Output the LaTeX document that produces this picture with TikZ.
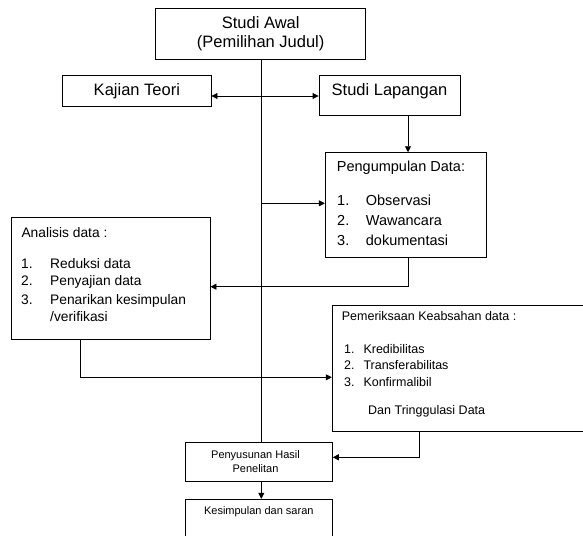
\documentclass[tikz,border=0pt]{standalone}
\usepackage{fontspec}
\setmainfont{Liberation Sans}
\usetikzlibrary{arrows.meta}
\begin{document}
\begin{tikzpicture}[x=1pt,y=-1pt,
  box/.style={draw, line width=0.9pt, inner sep=0pt},
  conn/.style={line width=0.9pt},
  arr/.style={conn, -{Triangle[length=6pt,width=6pt]}},
  darr/.style={conn, {Triangle[length=6pt,width=6pt]}-{Triangle[length=6pt,width=6pt]}},
  txt/.style={inner sep=0pt, anchor=west},
  fbig/.style={font=\fontsize{16.5}{19.5}\selectfont},
  fmid/.style={font=\fontsize{14.5}{17}\selectfont},
  fana/.style={font=\fontsize{13.8}{16}\selectfont},
  fsml/.style={font=\fontsize{12.5}{15}\selectfont},
  ftiny/.style={font=\fontsize{11}{14}\selectfont}
]
\useasboundingbox (0,0) rectangle (583,535);
\clip (0,0) rectangle (583,535);

% helper coordinates
\coordinate (spine) at (261.3,0);
\coordinate (y96) at (0,96);
\coordinate (x408) at (408,0);
\coordinate (y203) at (0,203.3);
\coordinate (y287) at (0,286.7);
\coordinate (x80) at (80,0);
\coordinate (y377) at (0,377.3);
\coordinate (x419) at (419.3,0);
\coordinate (y457) at (0,457.3);

% boxes
\node[box, fbig, minimum width=210pt, minimum height=51pt, align=center] (awal) at (260.7,33.8) {Studi Awal\\(Pemilihan Judul)};
\node[box, fbig, minimum width=148.3pt, minimum height=30.6pt] (kajian) at (136.85,91) {Kajian Teori};
\node[box, minimum width=141.7pt, minimum height=39.6pt] (lap) at (389.85,95.5) {};
\node[box, minimum width=161.4pt, minimum height=104.6pt] (kumpul) at (406,205) {};
\node[box, minimum width=199pt, minimum height=121.3pt] (analisis) at (110.5,278.35) {};
\node[box, minimum width=267.7pt, minimum height=126pt] (periksa) at (466.15,368) {};
\node[box, minimum width=146.6pt, minimum height=38.6pt] (susun) at (259,462) {};
\node[box, minimum width=146.6pt, minimum height=45.7pt] (simpul) at (259,522.15) {};

% texts
\node[inner sep=0pt, fbig] (laptext) at (389.5,91.7) {Studi Lapangan};

\node[txt, fmid] (kt) at (336.7,167.7) {Pengumpulan Data:};
\node[txt, fmid] (k1) at (337,200.7) {\makebox[28.7pt][l]{1.}Observasi};
\node[txt, fmid] (k2) at (337,220.7) {\makebox[28.7pt][l]{2.}Wawancara};
\node[txt, fmid] (k3) at (337,240) {\makebox[28.7pt][l]{3.}dokumentasi};

\node[txt, fana] (at) at (21.3,232.3) {Analisis data :};
\node[txt, fana] (a1) at (21,263.3) {\makebox[29pt][l]{1.}Reduksi data};
\node[txt, fana] (a2) at (21,282.3) {\makebox[29pt][l]{2.}Penyajian data};
\node[txt, fana] (a3) at (21,300.7) {\makebox[29pt][l]{3.}Penarikan kesimpulan};
\node[txt, fana] (a4) at (50,317) {/verifikasi};

\node[txt, fsml] (pt) at (341.7,315.7) {Pemeriksaan Keabsahan data :};
\node[txt, fsml] (p1) at (344,349) {\makebox[19.3pt][l]{1.}Kredibilitas};
\node[txt, fsml] (p2) at (344,365.3) {\makebox[19.3pt][l]{2.}Transferabilitas};
\node[txt, fsml] (p3) at (344,382) {\makebox[19.3pt][l]{3.}Konfirmalibil};
\node[txt, fsml] (p4) at (368,411.7) {Dan Tringgulasi Data};

\node[inner sep=0pt, ftiny, align=center] (sutext) at (255.5,461.3) {Penyusunan Hasil\\Penelitan};
\node[inner sep=0pt, ftiny] (sitext) at (258.8,511.3) {Kesimpulan dan saran};

% connectors
\draw[conn] (awal.south -| spine) -- (susun.north -| spine);
\draw[darr] (kajian.east |- y96) -- (lap.west |- y96);
\draw[arr] (lap.south -| x408) -- (kumpul.north -| x408);
\draw[arr] (spine |- y203) -- (kumpul.west |- y203);
\draw[arr] (kumpul.south -| x408) |- (analisis.east |- y287);
\draw[arr] (analisis.south -| x80) |- (periksa.west |- y377);
\draw[arr] (periksa.south -| x419) |- (susun.east |- y457);
\draw[arr] (susun.south -| spine) -- (simpul.north -| spine);
\end{tikzpicture}
\end{document}
